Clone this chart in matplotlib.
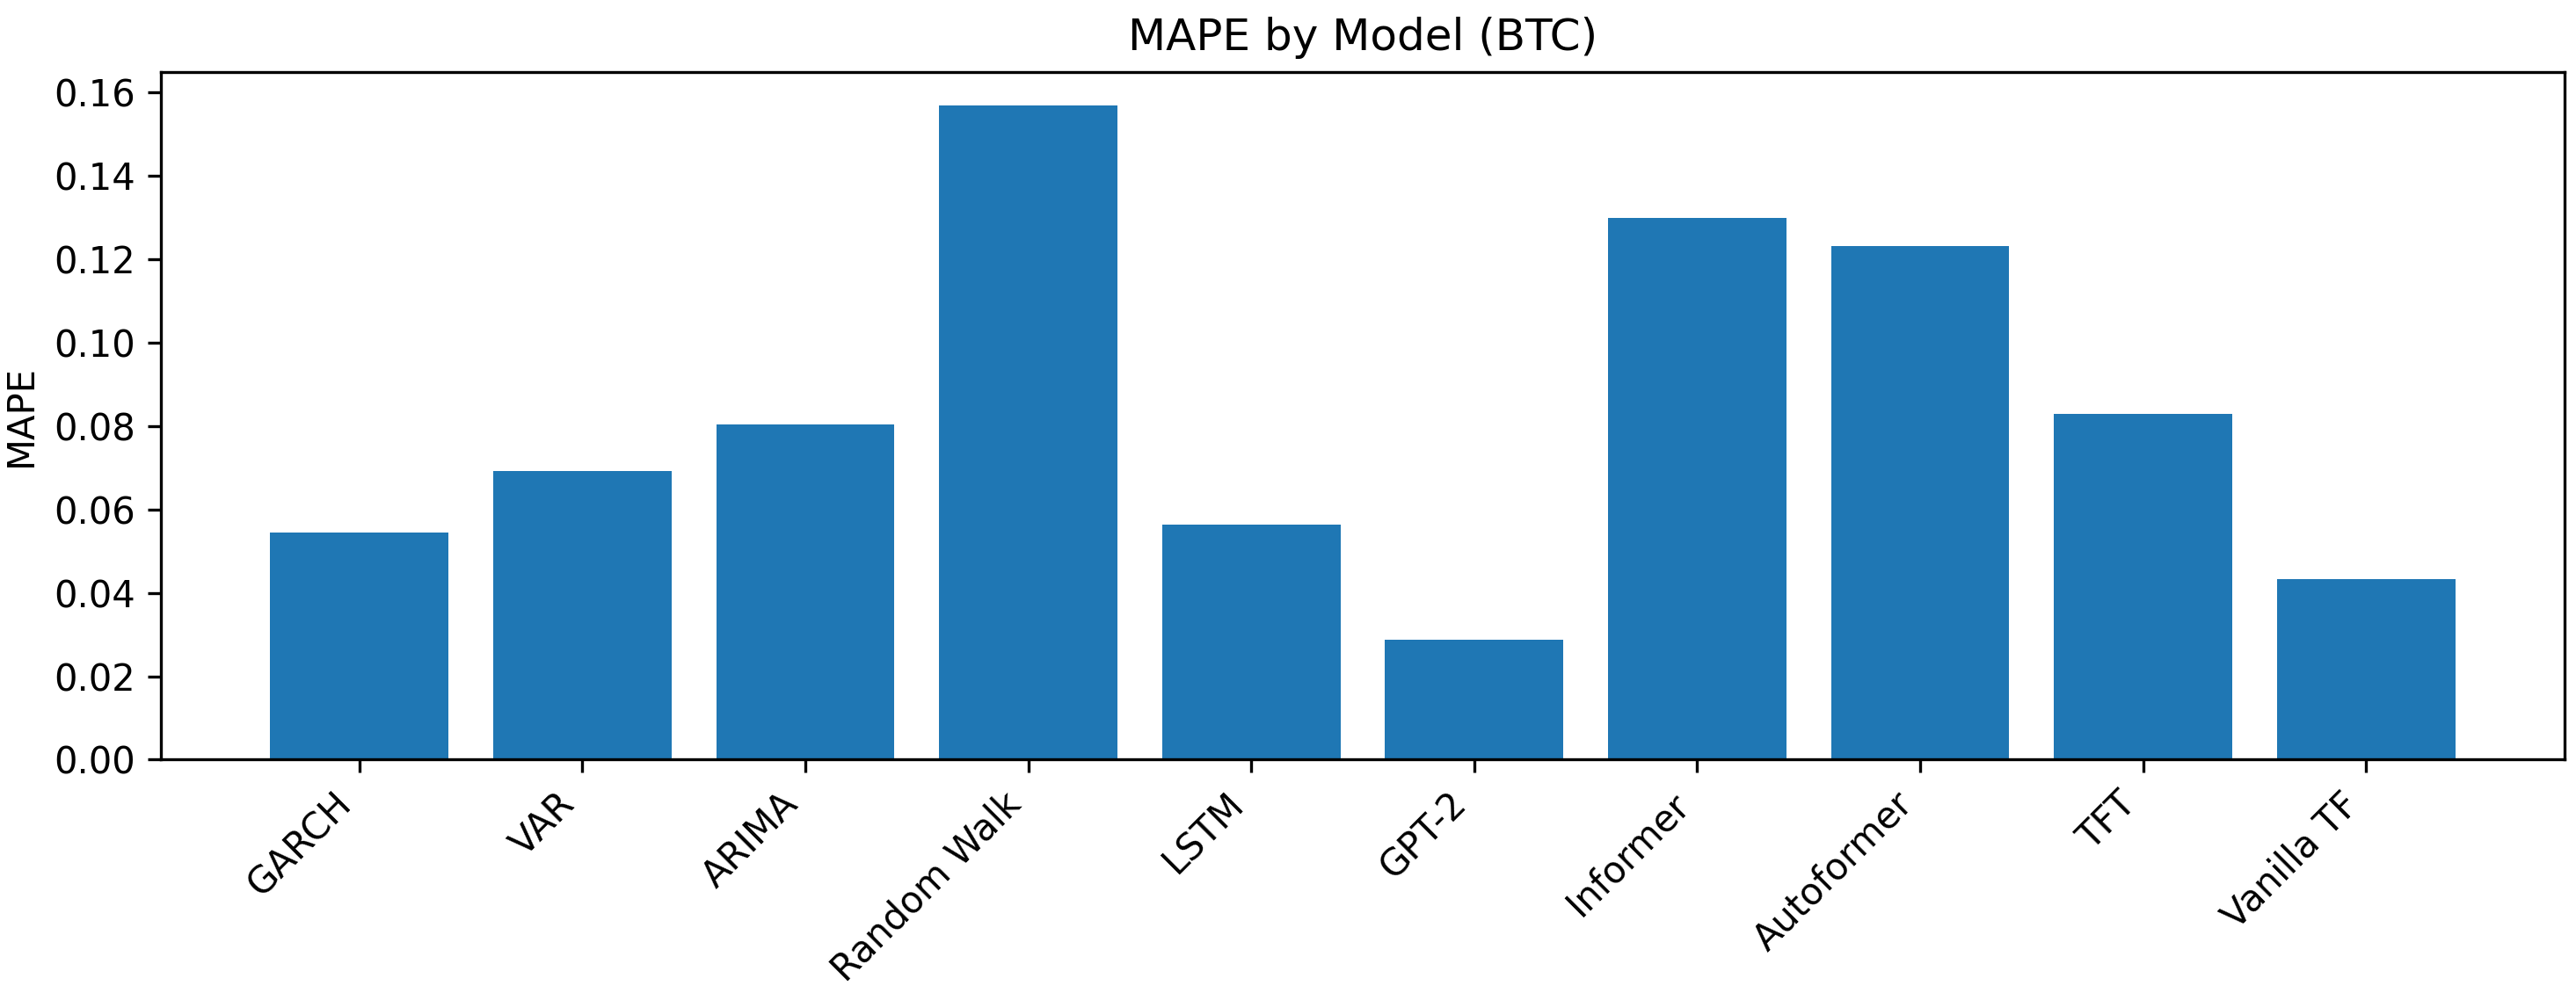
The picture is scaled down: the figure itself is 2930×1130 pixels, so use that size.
import matplotlib
matplotlib.use("Agg")
import matplotlib.pyplot as plt

models = ["GARCH", "VAR", "ARIMA", "Random Walk", "LSTM", "GPT-2",
          "Informer", "Autoformer", "TFT", "Vanilla TF"]
mape = [0.0544, 0.0692, 0.0805, 0.1570, 0.0563, 0.0288,
        0.1300, 0.1233, 0.0829, 0.0433]

fig, ax = plt.subplots(figsize=(2930 / 300, 1130 / 300), dpi=300)
ax.bar(models, mape, color="#1f77b4")
ax.set_title("MAPE by Model (BTC)")
ax.set_ylabel("MAPE")
plt.setp(ax.get_xticklabels(), rotation=45, ha="right")

fig.subplots_adjust(left=0.0625, right=0.9955, top=0.927, bottom=0.235)
fig.savefig("out.png", dpi=300)
